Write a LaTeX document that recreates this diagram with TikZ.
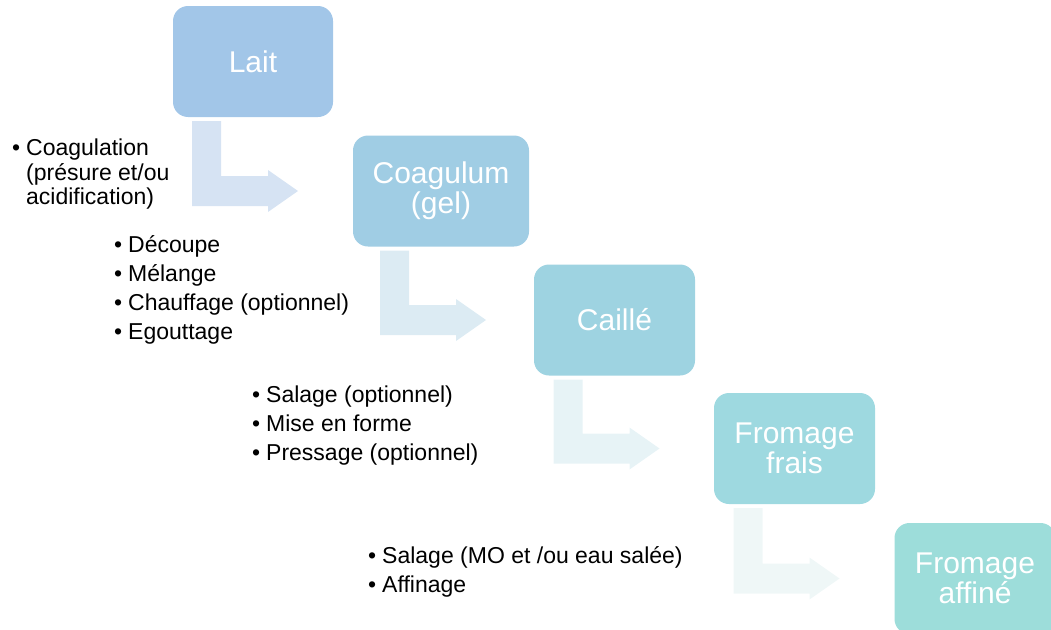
\documentclass[tikz,border=0pt]{standalone}
\usepackage{fontspec}
\setmainfont{Liberation Sans}
\usetikzlibrary{calc}

\definecolor{laitc}{RGB}{162,198,232}
\definecolor{gelc}{RGB}{160,205,228}
\definecolor{caillec}{RGB}{158,211,225}
\definecolor{fraisc}{RGB}{158,217,224}
\definecolor{affinec}{RGB}{157,221,218}
\definecolor{fl1}{RGB}{214,227,243}
\definecolor{fl2}{RGB}{220,235,243}
\definecolor{fl3}{RGB}{231,243,246}
\definecolor{fl4}{RGB}{239,247,247}

\tikzset{
  etape/.style={rounded corners=15pt, minimum height=111pt, inner sep=0pt,
    text=white, align=center, font=\fontsize{30}{30}\selectfont},
  liste/.style={anchor=north west, align=left, inner sep=0pt,
    font=\fontsize{23}{24.5}\selectfont}
}

\newcommand\puce{\makebox[14pt][l]{\textbullet}}
\newcommand\suite{\hspace*{14pt}}
\newcommand\bentarrow[3]{%
  \fill[#3] let \p1=(#1.south), \p2=(#2.center) in
    (\x1-61pt,\y1-4pt) -- (\x1-32pt,\y1-4pt) -- (\x1-32pt,\y2+15pt)
    -- (\x1+15pt,\y2+15pt) -- (\x1+15pt,\y2+21pt) -- (\x1+45pt,\y2)
    -- (\x1+15pt,\y2-21pt) -- (\x1+15pt,\y2-15pt) -- (\x1-61pt,\y2-15pt) -- cycle;}

\begin{document}
\begin{tikzpicture}[x=1pt,y=-1pt]
\useasboundingbox (0,0) rectangle (1051,629);
\clip (0,0) rectangle (1051,629);

\node[etape, fill=laitc, minimum width=160pt] (lait) at (253,61.5) {Lait};
\node[etape, fill=gelc, minimum width=176pt] (gel) at (441,191) {Coagulum\\(gel)};
\node[etape, fill=caillec, minimum width=161pt] (caille) at (614.5,320) {Caillé};
\node[etape, fill=fraisc, minimum width=161pt] (frais) at (794.5,448.5) {Fromage\\frais};
\node[etape, fill=affinec, minimum width=161pt] (affine) at (975,578.5) {Fromage\\affiné};

\bentarrow{lait}{gel}{fl1}
\bentarrow{gel}{caille}{fl2}
\bentarrow{caille}{frais}{fl3}
\bentarrow{frais}{affine}{fl4}

\node[liste] (opgel) at (12,139) {\puce Coagulation\\\suite(présure et/ou\\\suite acidification)};
\node[liste] (opcaille) at (114,235) {\puce Découpe\\[4.5pt]\puce Mélange\\[4.5pt]\puce Chauffage (optionnel)\\[4.5pt]\puce Egouttage};
\node[liste] (opfrais) at (252,386) {\puce Salage (optionnel)\\[4.5pt]\puce Mise en forme\\[4.5pt]\puce Pressage (optionnel)};
\node[liste] (opaffine) at (368,546) {\puce Salage (MO et /ou eau salée)\\[4.5pt]\puce Affinage};
\end{tikzpicture}
\end{document}
